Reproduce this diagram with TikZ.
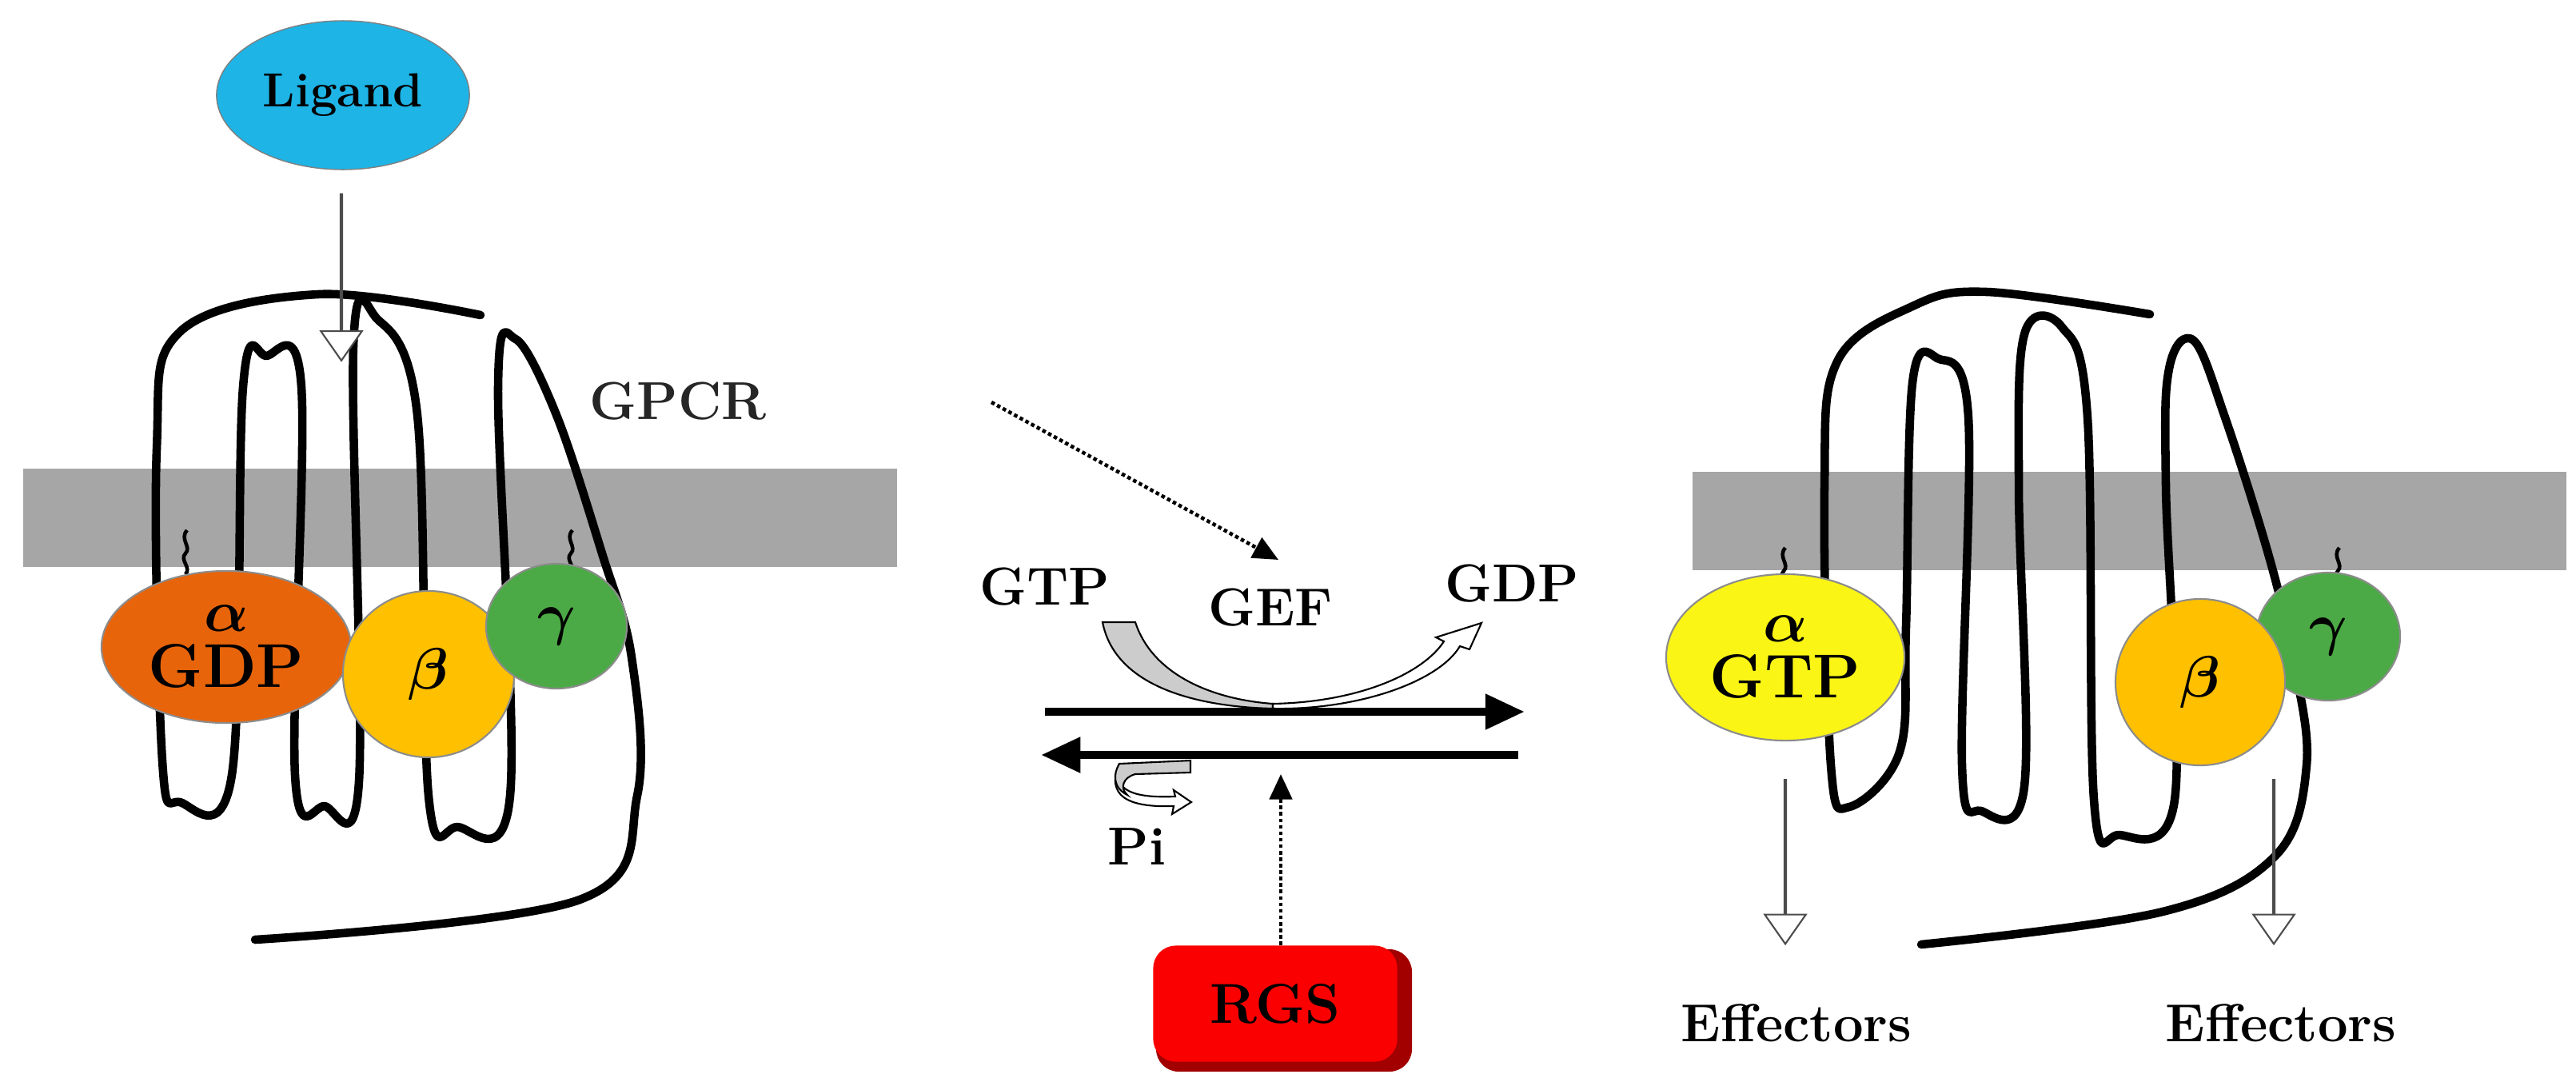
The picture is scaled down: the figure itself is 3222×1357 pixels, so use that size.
\documentclass[tikz,border=0pt]{standalone}
\usepackage{amsmath}
\usepackage{tikz}
\usetikzlibrary{calc,positioning,shapes.geometric,shapes.arrows,arrows.meta}
\usepackage{xcolor}
\definecolor{memgray}{RGB}{166,166,166}
\definecolor{ligblue}{RGB}{30,180,230}
\definecolor{alphaorange}{RGB}{232,100,10}
\definecolor{alphayellow}{RGB}{250,245,20}
\definecolor{betagold}{RGB}{255,192,0}
\definecolor{gammagreen}{RGB}{76,170,70}
\definecolor{rgsred}{RGB}{250,0,0}

\tikzset{
  receptor/.style={line width=3pt, line cap=round, line join=round},
  protein/.style={ellipse, draw=black!45, line width=0.6pt, inner sep=0pt, align=center,
    font=\bfseries\fontsize{22}{24}\selectfont},
  label/.style={font=\bfseries\fontsize{19}{21}\selectfont},
  hollow/.style={single arrow, draw=black!70, fill=white, line width=0.6pt,
    single arrow head extend=7pt, single arrow tip angle=70, minimum width=11pt, inner sep=0pt, rotate=-90},
  lipid/.style={line width=1.3pt},
  reaction/.style={line width=3pt, -{Triangle[length=14pt,width=12pt]}}
}
\newcommand{\squiggle}[2]{%
  \draw[lipid] (#1,#2) .. controls (#1+8,#2-8) and (#1-8,#2-18) .. (#1,#2-26)
    .. controls (#1+8,#2-34) and (#1-8,#2-44) .. (#1+2,#2-55);}

\begin{document}
\begin{tikzpicture}[x=0.01cm, y=-0.01cm]
  \useasboundingbox (0,0) rectangle (3222,1357);

  % membranes
  \fill[memgray] (29,586) rectangle (1122,709);
  \fill[memgray] (2117,590) rectangle (3210,713);

  % inactive receptor
  \draw[receptor] plot[smooth, tension=0.6] coordinates {
    (319,1175) (725,1125) (797,995) (790,822) (753,692) (696,519) (645,424) (623,484)
    (638,995) (572,1034) (536,995) (522,519) (471,398) (442,433) (449,977) (406,1008)
    (369,969) (377,484) (333,445) (304,484) (290,969) (225,1003) (203,951) (196,562)
    (225,415) (398,368) (601,394)};
  \node[font=\bfseries\fontsize{19}{21}\selectfont, text=black!85] (gpcr) at (848,502) {GPCR};

  % ligand
  \node[ellipse, draw=black!50, fill=ligblue, minimum width=2.32cm, minimum height=1.86cm,
    font=\bfseries\fontsize{17}{19}\selectfont] (ligand) at (429,119) {Ligand};
  \node[hollow, minimum height=2.08cm] (ligarrow) at (427,346) {};

  % inactive heterotrimer
  \squiggle{232}{718}
  \squiggle{714}{718}
  \node[protein, fill=alphaorange, minimum width=3.12cm, minimum height=1.9cm] (alphaoff) at (283,809) {$\boldsymbol{\alpha}$\\[-4pt]GDP};
  \node[protein, fill=betagold, minimum width=2.14cm, minimum height=2.08cm] (betaoff) at (536,843) {$\boldsymbol{\beta}$};
  \node[protein, fill=gammagreen, minimum width=1.76cm, minimum height=1.56cm] (gammaoff) at (696,783) {$\boldsymbol{\gamma}$};

  % active receptor
  \draw[receptor] plot[smooth, tension=0.6] coordinates {
    (2403,1181) (2705,1140) (2846,1070) (2885,957) (2869,827) (2838,696) (2783,522)
    (2744,426) (2713,461) (2709,609) (2720,1000) (2650,1044) (2619,1000) (2611,522)
    (2579,409) (2532,418) (2525,609) (2532,983) (2478,1014) (2454,957) (2462,522)
    (2423,448) (2392,479) (2384,783) (2376,940) (2313,1009) (2290,957) (2282,609)
    (2298,452) (2392,383) (2485,365) (2689,393)};

  % dissociated subunits
  \squiggle{2231}{740}
  \squiggle{2924}{740}
  \node[protein, fill=alphayellow, minimum width=2.98cm, minimum height=2.08cm] (alphaon) at (2233,822) {$\boldsymbol{\alpha}$\\[-4pt]GTP};
  \node[protein, fill=gammagreen, minimum width=1.8cm, minimum height=1.6cm] (gammaon) at (2912,796) {$\boldsymbol{\gamma}$};
  \node[protein, fill=betagold, minimum width=2.12cm, minimum height=2.08cm] (betaon) at (2752,853) {$\boldsymbol{\beta}$};

  % effectors
  \node[hollow, minimum height=2.05cm] (effarrowa) at (2233,1077) {};
  \node[hollow, minimum height=2.05cm] (effarrowb) at (2844,1077) {};
  \node[label] (effa) at (2247,1279) {Effectors};
  \node[label] (effb) at (2853,1279) {Effectors};

  % GTP cycle
  \node[label] (gtp) at (1307,734) {GTP};
  \node[label] (gef) at (1589,760) {GEF};
  \node[label] (gdp) at (1891,730) {GDP};
  \node[label] (pi) at (1422,1059) {Pi};
  \coordinate (fwdstart) at (1307,890);
  \coordinate (fwdend) at (1907,890);
  \coordinate (backstart) at (1899,944);
  \coordinate (backend) at (1302,944);
  \draw[reaction] (fwdstart) -- (fwdend);
  \draw[reaction] (backstart) -- (backend);

  % exchange arrow
  \filldraw[fill=black!20, line width=0.6pt] (1379,778) -- (1420,778)
    .. controls (1440,840) and (1510,874) .. (1592,880) -- (1592,886)
    .. controls (1500,884) and (1395,860) .. (1379,778) -- cycle;
  \filldraw[fill=white, line width=0.6pt] (1592,880)
    .. controls (1700,878) and (1780,842) .. (1806,802) -- (1796,797) -- (1853,779)
    -- (1838,812) -- (1826,808) .. controls (1800,852) and (1700,888) .. (1592,886) -- cycle;

  % hydrolysis curl
  \filldraw[fill=white, line width=0.6pt] (1400,955)
    .. controls (1390,990) and (1420,998) .. (1470,996) -- (1468,988) -- (1490,1003)
    -- (1466,1018) -- (1468,1008) .. controls (1410,1010) and (1383,995) .. (1400,955) -- cycle;
  \filldraw[fill=black!20, line width=0.6pt] (1400,955) -- (1489,951) -- (1489,966)
    -- (1420,968) .. controls (1405,972) and (1400,985) .. (1410,994)
    .. controls (1392,985) and (1392,968) .. (1400,955) -- cycle;

  % RGS
  \fill[rgsred!65!black, rounded corners=8pt] (1446,1187) rectangle (1766,1340);
  \node[fill=rgsred, rounded corners=8pt, minimum width=3.05cm, minimum height=1.45cm,
    font=\bfseries\fontsize{20}{22}\selectfont] (rgs) at (1595,1255) {RGS};
  \coordinate (rgstarget) at (1602,968);
  \coordinate (gpcrsignal) at (1240,503);
  \draw[densely dotted, line width=1.3pt, -{Triangle[length=9pt,width=8pt]}] (rgs.north -| rgstarget) -- (rgstarget);
  \draw[densely dotted, line width=1.3pt, -{Triangle[length=9pt,width=8pt]}] (gpcrsignal) -- (1599,700);
\end{tikzpicture}
\end{document}
